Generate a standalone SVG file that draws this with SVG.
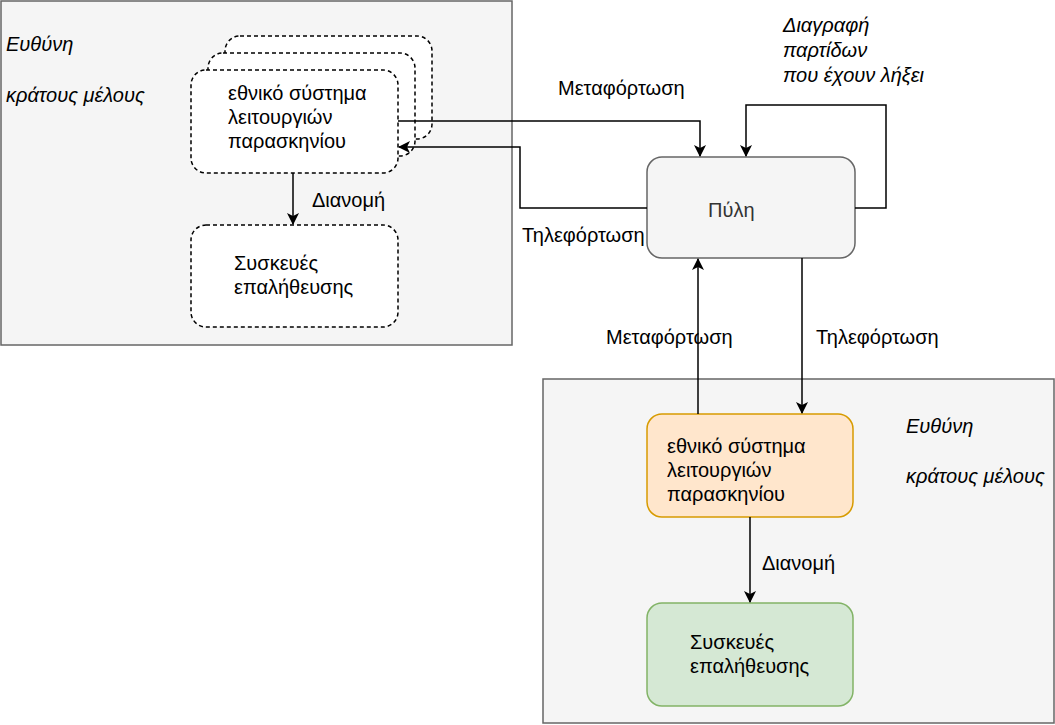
<svg xmlns="http://www.w3.org/2000/svg" width="1055" height="725" viewBox="0 0 1055 725">
<style>
text{font-family:"Liberation Sans",Arial,sans-serif;font-size:20px;fill:#000}
.it{font-style:italic}
.cont{fill:#f5f5f5;stroke:#666;stroke-width:1.5}
.dash{fill:#fff;stroke:#000;stroke-width:1.5;stroke-dasharray:4 3}
.ln{fill:none;stroke:#000;stroke-width:1.5}
</style>
<defs>
<marker id="ah" viewBox="0 0 12 12" refX="11" refY="6" markerWidth="12" markerHeight="12" markerUnits="userSpaceOnUse" orient="auto">
<path d="M0,0 L12,6 L0,12 L3,6 Z" fill="#000"/>
</marker>
</defs>
<g id="containerLeft">
<rect class="cont" x="1" y="1" width="511" height="344"/>
<text class="it" x="6" y="51">Ευθύνη</text>
<text class="it" x="6" y="102">κράτους μέλους</text>
</g>
<g id="containerRight">
<rect class="cont" x="543" y="379" width="511" height="344"/>
<text class="it" x="906" y="433">Ευθύνη</text>
<text class="it" x="906" y="483">κράτους μέλους</text>
</g>
<g id="backofficeStack">
<rect class="dash" x="225" y="36" width="207" height="103" rx="15"/>
<rect class="dash" x="208" y="53" width="207" height="103" rx="15"/>
<rect class="dash" x="191" y="70" width="207" height="103" rx="15"/>
<text x="228" y="100">εθνικό σύστημα</text>
<text x="228" y="124">λειτουργιών</text>
<text x="228" y="148">παρασκηνίου</text>
</g>
<g id="devicesLeft">
<rect class="dash" x="191" y="225" width="207" height="102" rx="15"/>
<text x="234" y="270">Συσκευές</text>
<text x="234" y="294">επαλήθευσης</text>
</g>
<g id="gateway">
<rect x="647" y="157" width="208" height="101" rx="15" fill="#f5f5f5" stroke="#666" stroke-width="1.5"/>
<text x="708" y="217" style="fill:#333">Πύλη</text>
</g>
<g id="backofficeRight">
<rect x="647" y="414" width="206" height="103" rx="15" fill="#ffe6cc" stroke="#d79b00" stroke-width="1.5"/>
<text x="667" y="453">εθνικό σύστημα</text>
<text x="667" y="477">λειτουργιών</text>
<text x="667" y="501">παρασκηνίου</text>
</g>
<g id="devicesRight">
<rect x="647" y="603" width="206" height="103" rx="15" fill="#d5e8d4" stroke="#82b366" stroke-width="1.5"/>
<text x="690" y="649">Συσκευές</text>
<text x="690" y="673">επαλήθευσης</text>
</g>
<g id="connectors">
<path class="ln" d="M293,173 V224" marker-end="url(#ah)"/>
<text x="312" y="207">Διανομή</text>
<path class="ln" d="M398,121 H700 V156" marker-end="url(#ah)"/>
<text x="558" y="95">Μεταφόρτωση</text>
<path class="ln" d="M647,208 H520 V147 H399" marker-end="url(#ah)"/>
<text x="522" y="242">Τηλεφόρτωση</text>
<path class="ln" d="M855,208 H886 V105 H746 V156" marker-end="url(#ah)"/>
<text class="it" x="783" y="32">Διαγραφή</text>
<text class="it" x="783" y="57">παρτίδων</text>
<text class="it" x="783" y="82">που έχουν λήξει</text>
<path class="ln" d="M698,414 V259" marker-end="url(#ah)"/>
<text x="606" y="344">Μεταφόρτωση</text>
<path class="ln" d="M802,258 V413" marker-end="url(#ah)"/>
<text x="816" y="344">Τηλεφόρτωση</text>
<path class="ln" d="M750,517 V602" marker-end="url(#ah)"/>
<text x="762" y="570">Διανομή</text>
</g>
</svg>
